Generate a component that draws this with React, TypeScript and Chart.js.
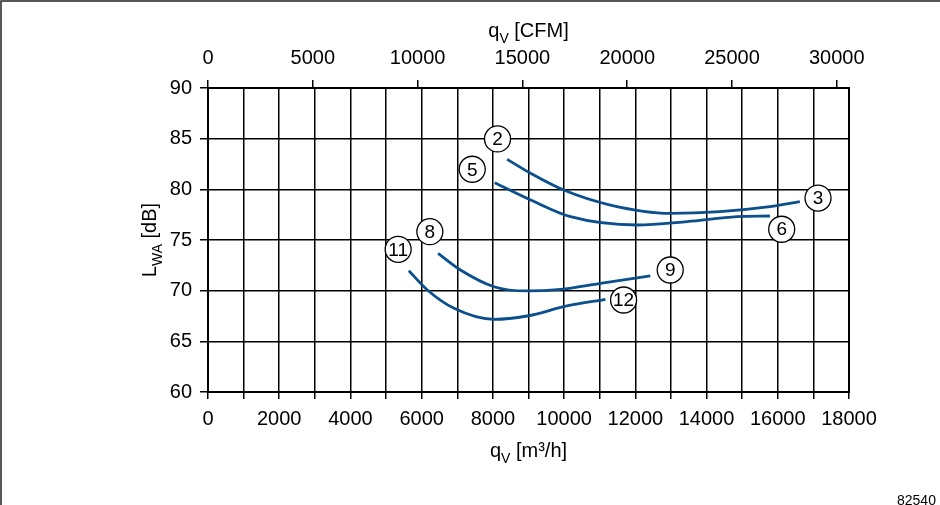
import { useEffect, useRef } from 'react';
import { Chart, registerables } from 'chart.js';

Chart.register(...registerables);

// ---- data ----
const flowMin = 0;
const flowMax = 18000;
const flowStep = 1000;
const flowLabelStep = 2000;
const cfmPerM3h = 1.699;
const cfmTickValues = [0, 5000, 10000, 15000, 20000, 25000, 30000];
const levelMin = 60;
const levelMax = 90;
const levelStep = 5;

const curve23Flow = [8400, 9000, 9990, 11300, 12980, 14380, 15780, 16620];
const curve23Level = [82.96, 81.7, 79.93, 78.45, 77.63, 77.8, 78.29, 78.78];

const curve56Flow = [8050, 9060, 10180, 12050, 13450, 14850, 15780];
const curve56Level = [80.66, 78.95, 77.3, 76.48, 76.81, 77.3, 77.37];

const curve89Flow = [6460, 7090, 8030, 8960, 9900, 11020, 12420];
const curve89Level = [73.68, 72.04, 70.39, 69.97, 70.13, 70.73, 71.45];

const curve1112Flow = [5640, 6160, 6910, 8030, 8960, 10080, 11160];
const curve1112Level = [71.97, 70.07, 68.26, 67.17, 67.5, 68.49, 69.15];

const curveNames = ['2–3', '5–6', '8–9', '11–12'];

const markerTexts = ['2', '3', '5', '6', '8', '9', '11', '12'];
const markerFlow = [8130, 17130, 7420, 16110, 6230, 12980, 5340, 11670];
const markerLevel = [84.97, 79.14, 81.98, 76.06, 75.82, 72.04, 74.08, 69.08];

const figureNumber = '82540';

// ---- styles ----
const FONT = '"Liberation Sans", Arial, Helvetica, sans-serif';
const CURVE_COLOR = '#0b4f8c';

type Part = { t: string; sub?: boolean };

function drawRich(ctx: CanvasRenderingContext2D, parts: Part[], cx: number, baseline: number, size: number) {
  const subSize = Math.round(size * 0.7);
  let w = 0;
  for (const p of parts) {
    ctx.font = `${p.sub ? subSize : size}px ${FONT}`;
    w += ctx.measureText(p.t).width;
  }
  let x = cx - w / 2;
  ctx.textAlign = 'left';
  ctx.textBaseline = 'alphabetic';
  for (const p of parts) {
    ctx.font = `${p.sub ? subSize : size}px ${FONT}`;
    ctx.fillText(p.t, x, baseline + (p.sub ? 6 : 0));
    x += ctx.measureText(p.t).width;
  }
}

const decorPlugin = {
  id: 'decor',
  beforeDraw(chart: any) {
    const ctx = chart.ctx as CanvasRenderingContext2D;
    ctx.save();
    ctx.fillStyle = '#fff';
    ctx.fillRect(0, 0, chart.width, chart.height);
    ctx.strokeStyle = '#222';
    ctx.lineWidth = 1.5;
    ctx.beginPath();
    ctx.moveTo(1, chart.height);
    ctx.lineTo(1, 1);
    ctx.lineTo(chart.width, 1);
    ctx.stroke();
    ctx.restore();
  },
  afterDraw(chart: any) {
    const ctx = chart.ctx as CanvasRenderingContext2D;
    const a = chart.chartArea;
    const xs = chart.scales.x;
    const ys = chart.scales.y;
    ctx.save();
    // plot frame
    ctx.strokeStyle = '#000';
    ctx.lineWidth = 2;
    ctx.strokeRect(a.left, a.top, a.right - a.left, a.bottom - a.top);

    // circled markers
    for (let i = 0; i < markerTexts.length; i++) {
      const px = xs.getPixelForValue(markerFlow[i]);
      const py = ys.getPixelForValue(markerLevel[i]);
      ctx.beginPath();
      ctx.arc(px, py, 13, 0, Math.PI * 2);
      ctx.fillStyle = '#fff';
      ctx.fill();
      ctx.lineWidth = 1.3;
      ctx.strokeStyle = '#000';
      ctx.stroke();
      ctx.fillStyle = '#000';
      ctx.font = `19px ${FONT}`;
      ctx.textAlign = 'center';
      ctx.textBaseline = 'middle';
      ctx.fillText(markerTexts[i], px, py + 1);
    }

    // axis titles
    ctx.fillStyle = '#000';
    const cx = (a.left + a.right) / 2;
    drawRich(ctx, [{ t: 'q' }, { t: 'V', sub: true }, { t: ' [m³/h]' }], cx, a.bottom + 64.5, 20);
    drawRich(ctx, [{ t: 'q' }, { t: 'V', sub: true }, { t: ' [CFM]' }], cx, a.top - 50.7, 20);
    ctx.save();
    ctx.translate(a.left - 52, (a.top + a.bottom) / 2);
    ctx.rotate(-Math.PI / 2);
    drawRich(ctx, [{ t: 'L' }, { t: 'WA', sub: true }, { t: ' [dB]' }], 0, 0, 20);
    ctx.restore();

    // figure number
    ctx.font = `14px ${FONT}`;
    ctx.textAlign = 'left';
    ctx.textBaseline = 'alphabetic';
    ctx.fillText(figureNumber, 897, 505);
    ctx.restore();
  },
};

function makeCurve(name: string, flow: number[], level: number[]) {
  return {
    label: name,
    data: flow.map((f, i) => ({ x: f, y: level[i] })),
    borderColor: CURVE_COLOR,
    borderWidth: 2.8,
    pointRadius: 0,
    cubicInterpolationMode: 'monotone' as const,
    fill: false,
  };
}

export default function App() {
  const ref = useRef<HTMLCanvasElement | null>(null);

  useEffect(() => {
    document.body.style.margin = '0';
    const canvas = ref.current;
    if (!canvas) return;
    const tickFont = { family: FONT, size: 20 };
    const chart = new Chart(canvas, {
      type: 'line',
      data: {
        datasets: [
          makeCurve(curveNames[0], curve23Flow, curve23Level),
          makeCurve(curveNames[1], curve56Flow, curve56Level),
          makeCurve(curveNames[2], curve89Flow, curve89Level),
          makeCurve(curveNames[3], curve1112Flow, curve1112Level),
        ],
      },
      options: {
        animation: false,
        responsive: false,
        devicePixelRatio: 1,
        layout: { padding: { left: 0, right: 91, top: 0, bottom: 0 } },
        plugins: {
          legend: { display: false },
          tooltip: { enabled: false },
        },
        scales: {
          x: {
            type: 'linear',
            position: 'bottom',
            min: flowMin,
            max: flowMax,
            ticks: {
              stepSize: flowStep,
              autoSkip: false,
              maxRotation: 0,
              color: '#000',
              font: tickFont,
              padding: 8,
              callback: (v: any) => (Number(v) % flowLabelStep === 0 ? String(v) : ''),
            },
            grid: { color: '#000', lineWidth: 1.5, tickLength: 7 },
            border: { display: false },
            afterFit: (s: any) => {
              s.height = 113;
              s.paddingLeft = 0;
              s.paddingRight = 0;
            },
          },
          x2: {
            type: 'linear',
            position: 'top',
            min: 0,
            max: flowMax * cfmPerM3h,
            ticks: {
              autoSkip: false,
              maxRotation: 0,
              color: '#000',
              font: tickFont,
              padding: 10,
              callback: (v: any) => String(v),
            },
            afterBuildTicks: (s: any) => {
              s.ticks = cfmTickValues.map((v) => ({ value: v }));
            },
            grid: { color: '#000', lineWidth: 1.5, tickLength: 8, drawOnChartArea: false },
            border: { display: false },
            afterFit: (s: any) => {
              s.height = 88;
              s.paddingLeft = 0;
              s.paddingRight = 0;
            },
          },
          y: {
            type: 'linear',
            min: levelMin,
            max: levelMax,
            ticks: { stepSize: levelStep, color: '#000', font: tickFont, padding: 8 },
            grid: { color: '#000', lineWidth: 1.5, tickLength: 8 },
            border: { display: false },
            afterFit: (s: any) => {
              s.width = 208;
            },
          },
        },
      },
      plugins: [decorPlugin],
    } as any);
    return () => chart.destroy();
  }, []);

  return (
    <div style={{ position: 'absolute', left: 0, top: 0, width: 940, height: 505 }}>
      <canvas ref={ref} width={940} height={505} style={{ width: 940, height: 505, display: 'block' }} />
    </div>
  );
}
